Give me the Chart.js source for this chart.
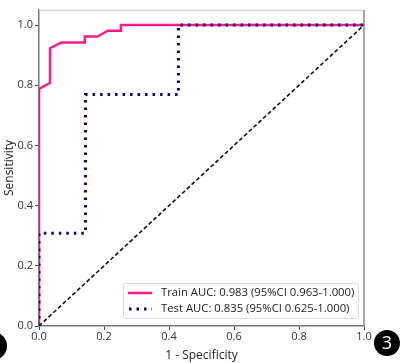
<!DOCTYPE html>
<html>
<head>
<meta charset="utf-8">
<script src="https://cdn.jsdelivr.net/npm/chart.js@4"></script>
<style>
  html, body { margin: 0; padding: 0; background: #fff; }
  #wrap { width: 410px; height: 363px; }
</style>
</head>
<body>
<div id="wrap"><canvas id="rocChart" width="410" height="363"></canvas></div>
<script>
// ROC points
const trainFpr = [0, 0, 0.034, 0.034, 0.069, 0.141, 0.141, 0.18, 0.212, 0.252, 0.252, 1];
const trainTpr = [0, 0.788, 0.808, 0.923, 0.942, 0.942, 0.962, 0.962, 0.981, 0.981, 1.0, 1.0];
const testFpr = [0, 0, 0.143, 0.143, 0.429, 0.429, 1];
const testTpr = [0, 0.308, 0.308, 0.769, 0.769, 1.0, 1.0];
const chanceLine = [0, 1];
const legendLabels = ['Train AUC: 0.983 (95%CI 0.963-1.000)', 'Test AUC: 0.835 (95%CI 0.625-1.000)'];
const tickValues = [0, 0.2, 0.4, 0.6, 0.8, 1.0];

const toPoints = (xs, ys) => xs.map((x, i) => ({x: x, y: ys[i]}));

const PINK = '#ff1a8c';
const NAVY = '#0b0b7a';
const FONT = '"Open Sans", "Noto Sans", sans-serif';

const extras = {
  id: 'extras',
  afterDatasetsDraw(chart) {
    const {ctx, chartArea: a} = chart;
    ctx.save();
    // top and right frame
    ctx.strokeStyle = '#d8d8d8';
    ctx.lineWidth = 1.5;
    ctx.beginPath();
    ctx.moveTo(a.left, a.top + 0.5);
    ctx.lineTo(a.right, a.top + 0.5);
    ctx.stroke();
    ctx.strokeStyle = '#888';
    ctx.beginPath();
    ctx.moveTo(a.right, a.top);
    ctx.lineTo(a.right, a.bottom);
    ctx.stroke();

    // legend box
    const bx = a.left + 84, by = a.bottom - 43, bw = 235, bh = 35;
    ctx.fillStyle = 'rgba(255,255,255,0.9)';
    ctx.strokeStyle = '#dcdcdc';
    ctx.lineWidth = 1;
    ctx.beginPath();
    ctx.roundRect(bx + 0.5, by + 0.5, bw, bh, 2);
    ctx.fill();
    ctx.stroke();

    ctx.lineWidth = 2.5;
    ctx.strokeStyle = PINK;
    ctx.beginPath();
    ctx.moveTo(bx + 5, by + 10);
    ctx.lineTo(bx + 29, by + 10);
    ctx.stroke();
    ctx.strokeStyle = NAVY;
    ctx.lineWidth = 3;
    ctx.setLineDash([2.5, 5]);
    ctx.beginPath();
    ctx.moveTo(bx + 6, by + 26);
    ctx.lineTo(bx + 29, by + 26);
    ctx.stroke();
    ctx.setLineDash([]);

    ctx.fillStyle = '#222';
    ctx.font = '11.3px ' + FONT;
    ctx.textBaseline = 'middle';
    ctx.fillText(legendLabels[0], bx + 38, by + 10);
    ctx.fillText(legendLabels[1], bx + 38, by + 26);
    ctx.restore();
  },
  afterDraw(chart) {
    const ctx = chart.ctx;
    ctx.save();
    ctx.fillStyle = '#000';
    ctx.beginPath();
    ctx.arc(387, 343, 13, 0, Math.PI * 2);
    ctx.fill();
    ctx.beginPath();
    ctx.arc(-7, 346, 14, 0, Math.PI * 2);
    ctx.fill();
    ctx.fillStyle = '#fff';
    ctx.font = '18px ' + FONT;
    ctx.textAlign = 'center';
    ctx.textBaseline = 'middle';
    ctx.fillText('3', 387, 344);
    ctx.restore();
  }
};

new Chart(document.getElementById('rocChart'), {
  type: 'scatter',
  data: {
    datasets: [
      {
        label: legendLabels[0],
        data: toPoints(trainFpr, trainTpr),
        showLine: true,
        borderColor: PINK,
        borderWidth: 2.5,
        pointRadius: 0,
        order: 3
      },
      {
        label: legendLabels[1],
        data: toPoints(testFpr, testTpr),
        showLine: true,
        borderColor: NAVY,
        borderWidth: 3,
        borderDash: [2.5, 5],
        pointRadius: 0,
        order: 2
      },
      {
        label: 'chance',
        data: toPoints(chanceLine, chanceLine),
        showLine: true,
        borderColor: '#111',
        borderWidth: 1.6,
        borderDash: [4, 2.5],
        pointRadius: 0,
        order: 1
      }
    ]
  },
  options: {
    responsive: false,
    animation: false,
    layout: {padding: {top: 10, right: 46, left: 2, bottom: 0}},
    plugins: {legend: {display: false}, tooltip: {enabled: false}},
    scales: {
      x: {
        type: 'linear',
        min: 0,
        max: 1,
        afterBuildTicks: s => { s.ticks = tickValues.map(v => ({value: v})); },
        afterFit: s => { s.height = 37; },
        ticks: {
          callback: v => Number(v).toFixed(1),
          color: '#333',
          font: {size: 11, family: FONT},
          padding: 0,
          maxRotation: 0
        },
        grid: {drawOnChartArea: false, drawTicks: true, tickLength: 4, color: '#444'},
        border: {color: '#777', width: 1.5},
        title: {display: true, text: '1 - Specificity', color: '#222', font: {size: 12, family: FONT}, padding: {top: 0, bottom: 0}}
      },
      y: {
        type: 'linear',
        min: 0,
        max: 1.05,
        afterBuildTicks: s => { s.ticks = tickValues.map(v => ({value: v})); },
        afterFit: s => { s.width = 37; },
        ticks: {
          callback: v => Number(v).toFixed(1),
          color: '#333',
          font: {size: 11, family: FONT},
          padding: 2
        },
        grid: {drawOnChartArea: false, drawTicks: true, tickLength: 4, color: '#444'},
        border: {color: '#777', width: 1.5},
        title: {display: true, text: 'Sensitivity', color: '#222', font: {size: 12, family: FONT}, padding: {top: 0, bottom: 0}}
      }
    }
  },
  plugins: [extras]
});
</script>
</body>
</html>
